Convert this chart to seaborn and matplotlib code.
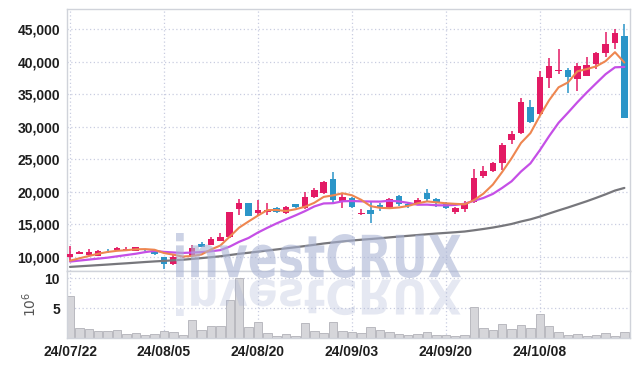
import numpy as np
import matplotlib
matplotlib.use('Agg')
import matplotlib.pyplot as plt
import seaborn as sns
from matplotlib.textpath import TextPath
from matplotlib.patches import PathPatch
from matplotlib.font_manager import FontProperties
from matplotlib.transforms import Affine2D

# trading days shown on the chart
dates = ['24/07/22', '24/07/23', '24/07/24', '24/07/25', '24/07/26', '24/07/29', '24/07/30', '24/07/31',
         '24/08/01', '24/08/02', '24/08/05', '24/08/06', '24/08/07', '24/08/08', '24/08/09', '24/08/12',
         '24/08/13', '24/08/14', '24/08/16', '24/08/19', '24/08/20', '24/08/21', '24/08/22', '24/08/23',
         '24/08/26', '24/08/27', '24/08/28', '24/08/29', '24/08/30', '24/09/02', '24/09/03', '24/09/04',
         '24/09/05', '24/09/06', '24/09/09', '24/09/10', '24/09/11', '24/09/12', '24/09/13', '24/09/19',
         '24/09/20', '24/09/23', '24/09/24', '24/09/25', '24/09/26', '24/09/27', '24/09/30', '24/10/02',
         '24/10/04', '24/10/07', '24/10/08', '24/10/10', '24/10/11', '24/10/14', '24/10/15', '24/10/16',
         '24/10/17', '24/10/18', '24/10/21', '24/10/22']

opens = [9950, 10500, 10250, 10200, 10950, 11000, 11050, 10950, 11200, 10950,
         9950, 8850, 9950, 10150, 12000, 11850, 12450, 13000, 17300, 18250,
         16800, 16850, 17450, 16700, 18100, 17450, 19250, 19850, 22000, 18500,
         19000, 16550, 17200, 18000, 17450, 19350, 18200, 18250, 19900, 18950,
         18200, 16950, 17350, 18400, 22450, 23150, 24400, 27950, 29000, 33100,
         31950, 37500, 38550, 38700, 37400, 37850, 39600, 41250, 42900, 43900]
highs = [11700, 10950, 11200, 11000, 11200, 11600, 11550, 11600, 11300, 11000,
         10000, 10400, 10200, 11800, 12300, 13100, 13650, 16950, 18850, 18300,
         18700, 18300, 17700, 17900, 18200, 20000, 20650, 21650, 23100, 19850,
         19250, 17400, 18400, 18300, 19100, 19450, 18350, 19100, 20400, 19100,
         18400, 17600, 18550, 23450, 24000, 24650, 27550, 29350, 34350, 34100,
         38550, 40500, 41900, 39000, 39800, 40700, 41500, 44600, 45000, 45800]
lows = [9500, 10400, 10150, 10150, 10600, 10900, 10950, 10900, 10900, 10300,
        8200, 8800, 9850, 10050, 11500, 11800, 12400, 12950, 16500, 16250,
        16250, 16500, 16750, 16650, 17500, 17400, 19000, 19600, 18250, 17450,
        17450, 16400, 15200, 17100, 17300, 17800, 17550, 17950, 18500, 17650,
        17300, 16650, 16950, 18250, 22100, 23000, 23350, 27350, 28900, 30500,
        31850, 35900, 38150, 35200, 35500, 37800, 38900, 40700, 42000, 31300]
closes = [10500, 10800, 10800, 10850, 10900, 11400, 11250, 11500, 11000, 10400,
          8900, 9950, 10100, 11400, 11600, 12700, 13000, 16900, 18350, 16300,
          17250, 17200, 16950, 17600, 17650, 19150, 20250, 21500, 18750, 19250,
          17650, 16700, 16650, 17500, 18950, 18200, 17900, 18700, 18900, 18250,
          17500, 17450, 18350, 22100, 23250, 24400, 27200, 28850, 33850, 30750,
          37650, 39300, 38700, 37600, 39250, 39400, 41350, 42750, 44450, 31300]

# volume in millions of shares
volume = [6.95, 1.7, 1.5, 1.2, 1.2, 1.35, 0.7, 0.85, 0.5, 0.7,
          1.2, 1.0, 0.5, 3.05, 1.35, 2.0, 2.0, 6.3, 10.0, 1.85,
          2.7, 0.85, 0.35, 0.7, 0.35, 2.55, 1.2, 0.85, 2.7, 1.2,
          1.0, 0.85, 1.85, 1.35, 1.0, 0.7, 0.5, 0.7, 1.0, 0.5,
          0.5, 0.35, 0.5, 5.1, 1.7, 1.35, 2.4, 1.5, 2.2, 1.7,
          3.95, 2.0, 1.0, 0.5, 0.7, 0.35, 0.5, 0.85, 0.35, 1.0]

# moving averages as drawn
ma5 = [9430, 9800, 10150, 10500, 10770, 10950, 11040, 11180, 11210, 11110,
       10610, 10350, 10070, 10150, 10390, 11150, 11760, 13120, 14510, 15450,
       16360, 17200, 17210, 17060, 17330, 17710, 18320, 19230, 19460, 19780,
       19480, 18770, 17800, 17550, 17490, 17600, 17840, 18250, 18530, 18390,
       18250, 18160, 18090, 18730, 19730, 21110, 23060, 25160, 27510, 29010,
       31660, 34080, 36050, 36800, 38500, 38850, 39260, 40070, 41440, 39850]
ma10 = [9300, 9450, 9600, 9750, 9900, 10100, 10300, 10500, 10750, 10940,
        10780, 10695, 10625, 10680, 10750, 10880, 11055, 11595, 12330, 12920,
        13755, 14480, 15165, 15785, 16390, 17035, 17760, 18220, 18260, 18555,
        18595, 18545, 18515, 18505, 18635, 18540, 18305, 18025, 18040, 17940,
        17925, 18000, 18170, 18630, 19060, 19680, 20610, 21625, 23120, 24370,
        26385, 28570, 30605, 32155, 33755, 35255, 36670, 38060, 39120, 39175]
ma60 = [8480, 8570, 8660, 8750, 8840, 8940, 9030, 9130, 9230, 9320,
        9400, 9490, 9580, 9700, 9830, 9970, 10110, 10300, 10490, 10650,
        10820, 10990, 11160, 11330, 11500, 11680, 11870, 12070, 12230, 12390,
        12530, 12650, 12760, 12880, 13010, 13130, 13250, 13370, 13490, 13600,
        13700, 13800, 13910, 14100, 14300, 14520, 14780, 15070, 15450, 15780,
        16200, 16680, 17150, 17600, 18080, 18560, 19080, 19620, 20200, 20600]

price_ticks = [10000, 15000, 20000, 25000, 30000, 35000, 40000, 45000]

RED = '#e31a64'
BLUE = '#2b95c8'
GRID = '#c9cde0'
SPINE = '#d0d3da'

sns.set_theme(style='white')
plt.rcParams['font.family'] = ['Liberation Sans', 'DejaVu Sans']

W, H = 639, 366
fig = plt.figure(figsize=(W / 100, H / 100), dpi=100)
ax = fig.add_axes([67 / W, (H - 271) / H, 563 / W, 262 / H])
axv = fig.add_axes([67 / W, (H - 338) / H, 563 / W, 67 / H])

x = np.arange(len(dates))
o = np.array(opens)
c = np.array(closes)
cols = np.where(c >= o, RED, BLUE)

# candles
ax.vlines(x, lows, highs, colors=cols, lw=1.1, zorder=3)
body = np.maximum(np.abs(c - o), 90)
ax.bar(x, body, bottom=np.minimum(o, c), width=0.7, color=cols, zorder=4, linewidth=0)

# moving averages
sns.lineplot(x=x, y=ma60, ax=ax, color='#77777c', lw=1.6, zorder=5)
sns.lineplot(x=x, y=ma10, ax=ax, color='#c54fe6', lw=1.6, zorder=5)
sns.lineplot(x=x, y=ma5, ax=ax, color='#ee8650', lw=1.5, zorder=5)

xlim = (-0.32, 59.6)
ax.set_xlim(xlim)
ax.set_ylim(7850, 48070)
ax.set_yticks(price_ticks)
ax.set_yticklabels([f'{v:,}' for v in price_ticks])
ax.set_xticks(x[::10])
ax.set_xticklabels([])
ax.set_xlabel('')
ax.set_ylabel('')

# volume
sns.barplot(x=x, y=volume, ax=axv, color='#d6d6da', edgecolor='#b9b9bf',
            linewidth=0.7, width=0.9, saturation=1)
axv.set_xlim(xlim)
axv.set_ylim(0, 11.2)
axv.set_yticks([5, 10])
axv.set_yticklabels(['5', '10'])
axv.set_xticks(x[::10])
axv.set_xticklabels(dates[::10])
axv.set_xlabel('')
axv.set_ylabel(r'$10^6$', fontsize=10, color='#555555', labelpad=4)

for a in (ax, axv):
    a.grid(True, linestyle=(0, (1, 2)), color=GRID, lw=0.9)
    a.set_axisbelow(True)
    for s in a.spines.values():
        s.set_color(SPINE)
        s.set_linewidth(1)
    a.tick_params(length=0, labelsize=10, labelcolor='#1e1e1e', pad=5)
    for t in a.get_xticklabels() + a.get_yticklabels():
        t.set_fontweight('bold')

# watermark and its reflection
tp = TextPath((0, 0), 'investCRUX', size=100,
              prop=FontProperties(family='DejaVu Sans', weight='bold'))
ext = tp.get_extents()


def mark(x0, x1, base, height, flip, alpha):
    sy = -height / ext.height if flip else height / ext.height
    tr = (Affine2D().translate(-ext.x0, -ext.y0)
          .scale((x1 - x0) / ext.width, sy)
          .translate(x0, H - base)
          .scale(1 / W, 1 / H))
    p = PathPatch(tr.transform_path(tp), transform=fig.transFigure,
                  facecolor='#aab4d4', edgecolor='none', alpha=alpha, zorder=10)
    fig.add_artist(p)


mark(176, 461, 278, 45, False, 0.6)
mark(176, 461, 279, 37, True, 0.3)

fig.savefig('out.png', dpi=100)
